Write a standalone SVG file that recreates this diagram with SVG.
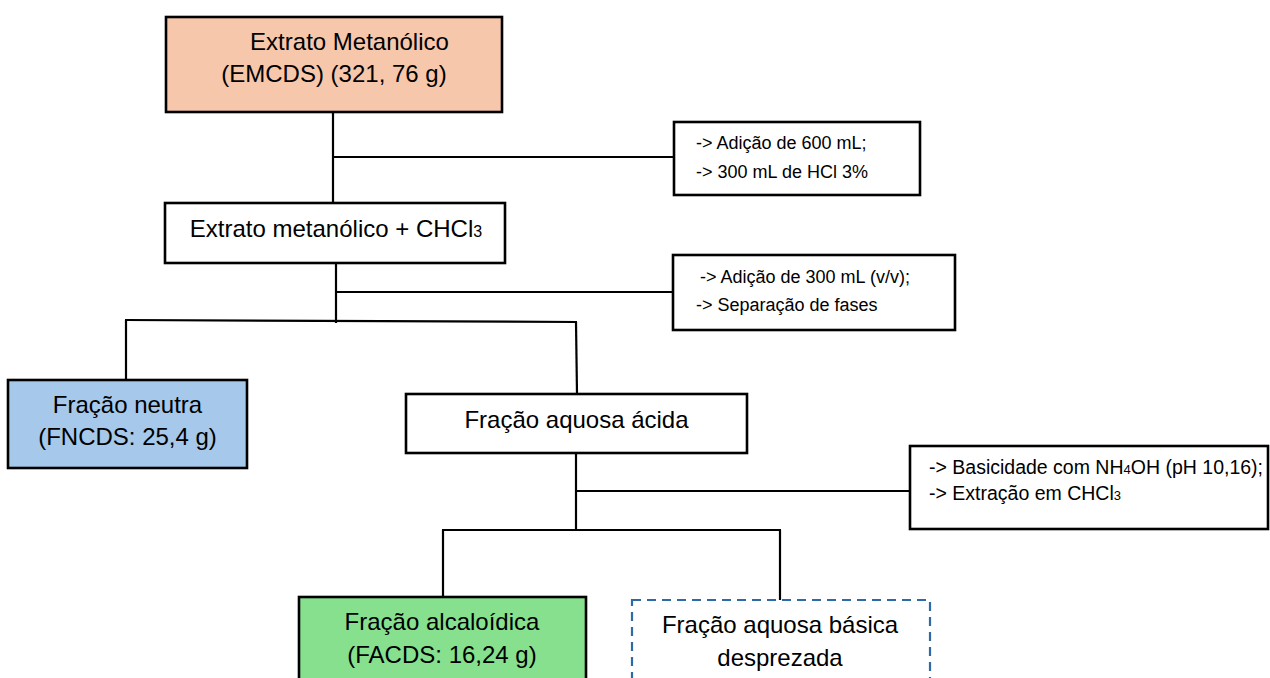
<svg xmlns="http://www.w3.org/2000/svg" width="1270" height="678" viewBox="0 0 1270 678">
<style>
.box{stroke:#000;stroke-width:2.6;}
.t{font-family:"Liberation Sans",Arial,sans-serif;font-size:24px;fill:#000;}
.s{font-family:"Liberation Sans",Arial,sans-serif;font-size:18px;fill:#000;}
.s19{font-size:19.5px;}
.c{text-anchor:middle;}
.ln{stroke:#000;stroke-width:2.2;fill:none;}
</style>
<rect width="1270" height="678" fill="#fff"/>
<g id="connectors">
<line class="ln" x1="333" y1="112" x2="333" y2="203"/>
<line class="ln" x1="333" y1="157" x2="674" y2="157"/>
<line class="ln" x1="336" y1="263" x2="336" y2="323"/>
<line class="ln" x1="336" y1="292" x2="673" y2="292"/>
<line class="ln" x1="125" y1="320" x2="577" y2="322"/>
<line class="ln" x1="126" y1="320" x2="126" y2="380"/>
<line class="ln" x1="576" y1="322" x2="577" y2="394"/>
<line class="ln" x1="576" y1="453" x2="576" y2="530"/>
<line class="ln" x1="576" y1="491" x2="910" y2="491"/>
<line class="ln" x1="442" y1="530" x2="781" y2="530"/>
<line class="ln" x1="443" y1="530" x2="443" y2="597"/>
<line class="ln" x1="780" y1="530" x2="780" y2="600"/>
</g>
<g id="n-extrato">
<rect class="box" x="166" y="17" width="336" height="95" fill="#F7C7AC" stroke-width="3"/>
<text class="t c" x="349.5" y="50">Extrato Metanólico</text>
<text class="t c" x="334" y="82">(EMCDS) (321, 76 g)</text>
</g>
<g id="n-note1">
<rect class="box" x="674" y="122" width="246" height="73" fill="#fff"/>
<text class="s" x="696" y="149">-&gt; Adição de 600 mL;</text>
<text class="s" x="696" y="178">-&gt; 300 mL de HCl 3%</text>
</g>
<g id="n-chcl3">
<rect class="box" x="165" y="203" width="340" height="60" fill="#fff"/>
<text class="t c" x="336" y="237">Extrato metanólico + CHCl<tspan font-size="16">3</tspan></text>
</g>
<g id="n-note2">
<rect class="box" x="673" y="255" width="282" height="75" fill="#fff"/>
<text class="s" x="700" y="283">-&gt; Adição de 300 mL (v/v);</text>
<text class="s" x="696" y="311">-&gt; Separação de fases</text>
</g>
<g id="n-neutra">
<rect class="box" x="8" y="380" width="239" height="88" fill="#A6C8EA"/>
<text class="t c" x="127.5" y="413">Fração neutra</text>
<text class="t c" x="127.5" y="445">(FNCDS: 25,4 g)</text>
</g>
<g id="n-acida">
<rect class="box" x="406" y="394" width="341" height="59" fill="#fff"/>
<text class="t c" x="576.5" y="428">Fração aquosa ácida</text>
</g>
<g id="n-note3">
<rect class="box" x="910" y="446" width="358" height="83" fill="#fff"/>
<text class="s s19" x="929" y="474">-&gt; Basicidade com NH<tspan font-size="13">4</tspan>OH (pH 10,16);</text>
<text class="s s19" x="929" y="500">-&gt; Extração em CHCl<tspan font-size="13">3</tspan></text>
</g>
<g id="n-alcaloidica">
<rect class="box" x="299" y="597" width="287" height="95" fill="#86E08E"/>
<text class="t c" x="442" y="630">Fração alcaloídica</text>
<text class="t c" x="442" y="663">(FACDS: 16,24 g)</text>
</g>
<g id="n-basica">
<rect x="632" y="600" width="298" height="95" fill="#fff" stroke="#2E6AA6" stroke-width="2.2" stroke-dasharray="9,6"/>
<text class="t c" x="780" y="633">Fração aquosa básica</text>
<text class="t c" x="780" y="666">desprezada</text>
</g>
</svg>
